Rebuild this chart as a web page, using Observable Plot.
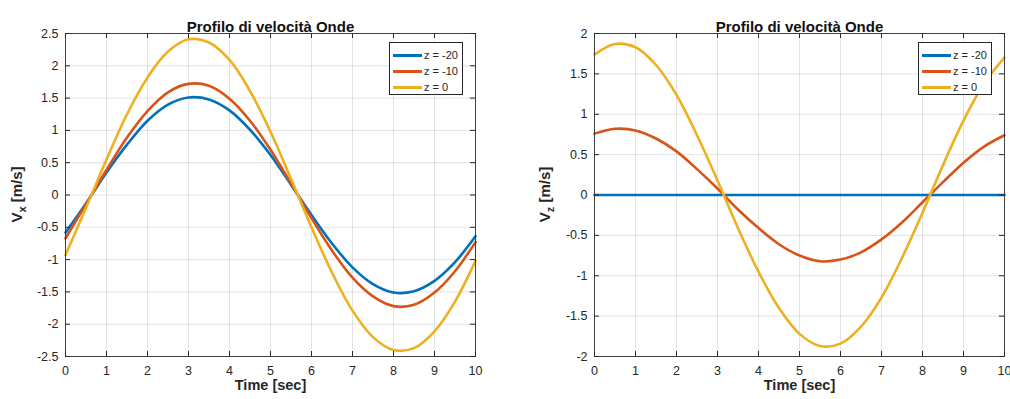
<!DOCTYPE html>
<html><head><meta charset="utf-8">
<script src="https://cdn.jsdelivr.net/npm/d3@7"></script>
<script src="https://cdn.jsdelivr.net/npm/@observablehq/plot@0.6"></script>
<style>
body{margin:0;background:#fff;}
#wrap{position:relative;width:1010px;height:399px;overflow:hidden;font-family:"Liberation Sans",Arial,sans-serif;}
.panel{position:absolute;top:0;}
.legend{position:absolute;background:#fff;border:1px solid #262626;box-sizing:border-box;font-size:11px;color:#262626;padding:4px 0 0 3px;}
.legend .row{display:flex;align-items:center;height:16px;}
.legend .sw{display:inline-block;width:29px;height:3px;margin-right:2px;}
</style></head><body><div id="wrap"></div>
<script>
const time = [0,0.5,1,1.5,2,2.5,3,3.5,4,4.5,5,5.5,6,6.5,7,7.5,8,8.5,9,9.5,10];
const series = ["z = -20","z = -10","z = 0"];
const colors = ["#0072BD","#D95319","#EDB120"];
const vxZm20 = [-0.58,-0.13,0.35,0.78,1.15,1.40,1.51,1.48,1.31,1.01,0.62,0.16,-0.31,-0.75,-1.12,-1.38,-1.51,-1.49,-1.33,-1.04,-0.64];
const vxZm10 = [-0.67,-0.14,0.39,0.89,1.30,1.59,1.72,1.69,1.49,1.15,0.70,0.18,-0.36,-0.86,-1.28,-1.57,-1.72,-1.70,-1.51,-1.18,-0.73];
const vxZ0   = [-0.93,-0.20,0.55,1.25,1.82,2.22,2.41,2.36,2.09,1.61,0.98,0.25,-0.50,-1.20,-1.79,-2.20,-2.40,-2.37,-2.11,-1.65,-1.02];
const vzZm20 = [0,0,0,0,0,0,0,0,0,0,0,0,0,0,0,0,0,0,0,0,0];
const vzZm10 = [0.76,0.82,0.80,0.70,0.54,0.32,0.08,-0.18,-0.41,-0.61,-0.75,-0.82,-0.80,-0.71,-0.55,-0.34,-0.09,0.16,0.40,0.60,0.74];
const vzZ0   = [1.74,1.87,1.83,1.61,1.24,0.74,0.18,-0.41,-0.95,-1.40,-1.72,-1.87,-1.84,-1.63,-1.27,-0.78,-0.22,0.37,0.92,1.38,1.70];
const xTicks = [0,1,2,3,4,5,6,7,8,9,10];
const vxTicks = [-2.5,-2,-1.5,-1,-0.5,0,0.5,1,1.5,2,2.5];
const vzTicks = [-2,-1.5,-1,-0.5,0,0.5,1,1.5,2];
const title = "Profilo di velocità Onde";
const xLabel = "Time [sec]";

const wrap = document.getElementById("wrap");
const H = 399, mT = 33, mB = 43, tick = 5;
const ink = "#262626";

function panel({left, width, mL, mR, yDomain, yTicks, data, sub, labelX, legendLeft}) {
  const rows = [];
  data.forEach((arr, si) => arr.forEach((v, i) => rows.push({t: time[i], v, s: series[si]})));
  const innerH = H - mT - mB, innerW = width - mL - mR;
  const fmt = d => String(d);
  const svg = Plot.plot({
    width, height: H, marginLeft: mL, marginRight: mR, marginTop: mT, marginBottom: mB,
    style: {fontFamily: "Liberation Sans, Arial, sans-serif", fontSize: "12.5px", color: ink, background: "transparent", overflow: "visible"},
    x: {domain: [0, 10], ticks: xTicks, tickFormat: fmt},
    y: {domain: yDomain, ticks: yTicks, tickFormat: fmt},
    color: {domain: series, range: colors},
    marks: [
      Plot.gridX(xTicks, {stroke: ink, strokeOpacity: 0.13}),
      Plot.gridY(yTicks, {stroke: ink, strokeOpacity: 0.13}),
      Plot.line(rows, {x: "t", y: "v", z: "s", stroke: "s", strokeWidth: 2.6, curve: "catmull-rom"}),
      Plot.frame({stroke: ink, strokeOpacity: 0.85}),
      Plot.axisX(xTicks, {tickSize: 0, tickPadding: 10, label: null, fill: ink, tickFormat: fmt}),
      Plot.axisY(yTicks, {tickSize: 0, tickPadding: 7, label: null, fill: ink, tickFormat: fmt}),
      Plot.tickX(xTicks, {x: d => d, insetTop: innerH - tick, stroke: ink}),
      Plot.tickX(xTicks, {x: d => d, insetBottom: innerH - tick, stroke: ink}),
      Plot.tickY(yTicks, {y: d => d, insetRight: innerW - tick, stroke: ink}),
      Plot.tickY(yTicks, {y: d => d, insetLeft: innerW - tick, stroke: ink}),
      Plot.text([title], {frameAnchor: "top", dy: -12, fontWeight: "bold", fontSize: 15, fill: "#111"}),
      Plot.text([xLabel], {frameAnchor: "bottom", dy: 33, fontWeight: "bold", fontSize: 14.5, fill: ink})
    ]
  });
  svg.classList.add("panel");
  svg.style.left = left + "px";
  const t = d3.select(svg).append("text")
    .attr("transform", `translate(${labelX},${mT + innerH / 2}) rotate(-90)`)
    .attr("text-anchor", "middle").attr("font-weight", "bold").attr("font-size", 15)
    .attr("fill", ink).attr("font-family", "Liberation Sans, Arial, sans-serif");
  t.append("tspan").text("V");
  t.append("tspan").attr("font-size", 11).attr("dy", 4).text(sub);
  t.append("tspan").attr("dy", -4).text(" [m/s]");
  wrap.appendChild(svg);

  const lg = document.createElement("div");
  lg.className = "legend";
  lg.style.left = legendLeft + "px"; lg.style.top = "42px";
  lg.style.width = "74px"; lg.style.height = "53px";
  series.forEach((s, i) => {
    const r = document.createElement("div"); r.className = "row";
    const sw = document.createElement("span"); sw.className = "sw"; sw.style.background = colors[i];
    const tx = document.createElement("span"); tx.textContent = s;
    r.appendChild(sw); r.appendChild(tx); lg.appendChild(r);
  });
  wrap.appendChild(lg);
}

panel({left: 0, width: 520, mL: 65, mR: 45, yDomain: [-2.5, 2.5], yTicks: vxTicks,
  data: [vxZm20, vxZm10, vxZ0], sub: "x", labelX: 22, legendLeft: 389});
panel({left: 520, width: 490, mL: 74, mR: 6, yDomain: [-2, 2], yTicks: vzTicks,
  data: [vzZm20, vzZm10, vzZ0], sub: "z", labelX: 30, legendLeft: 918});
</script></body></html>
